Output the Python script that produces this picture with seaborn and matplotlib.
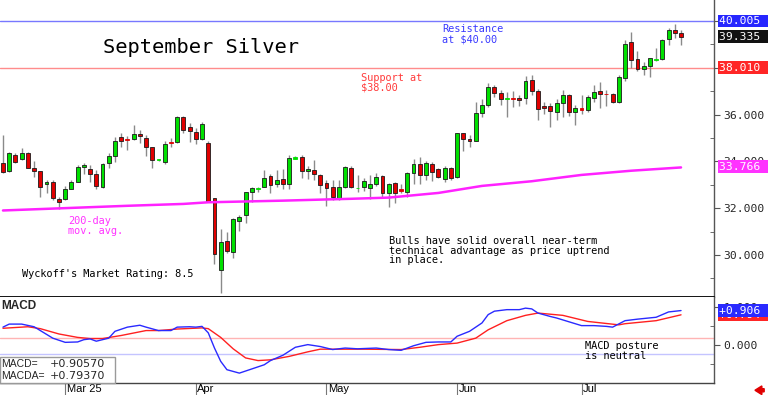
"""
September Silver daily candles with 200-day MA and a MACD panel below.
Values read off the chart by eye; x is the trading-day index.
"""

import numpy as np
import pandas as pd
import matplotlib
matplotlib.use("Agg")
import matplotlib.pyplot as plt
import matplotlib.transforms as mtransforms
from matplotlib.patches import Rectangle, FancyArrow
import seaborn as sns

# ---------------------------------------------------------------------------
# Data
# ---------------------------------------------------------------------------

OPEN = [33.93, 33.59, 34.27, 34.10, 34.36, 33.72, 33.59, 33.03, 33.12, 32.40,
        32.40, 32.82, 33.12, 33.76, 33.68, 33.46, 32.90, 33.93, 34.23, 35.04,
        34.96, 34.96, 35.17, 35.00, 34.62, 34.06, 33.97, 34.83, 34.83, 35.90,
        35.47, 35.26, 34.96, 34.79, 32.44, 29.36, 30.60, 30.13, 31.45, 31.71,
        32.69, 32.80, 32.90, 33.38, 33.03, 33.25, 33.03, 34.12, 34.19, 33.59,
        33.63, 33.42, 33.08, 32.90, 32.40, 32.90, 33.72, 32.84, 32.90, 32.86,
        33.03, 33.38, 32.65, 33.08, 32.82, 32.69, 33.50, 33.89, 33.42, 33.89,
        33.68, 33.25, 33.72, 33.33, 35.21, 34.96, 34.87, 36.07, 36.41, 37.18,
        36.92, 36.65, 36.69, 36.71, 36.71, 37.48, 37.01, 36.37, 36.37, 36.11,
        36.50, 36.84, 36.11, 36.28, 36.20, 36.71, 37.01, 36.90, 36.88, 36.54,
        37.56, 39.10, 38.38, 37.95, 38.08, 38.33, 38.38, 39.23, 39.62, 39.49]
HIGH = [35.13, 34.40, 34.36, 34.57, 34.40, 34.00, 33.60, 33.20, 33.20, 32.48,
        32.95, 33.20, 33.85, 33.93, 33.85, 33.63, 33.93, 34.36, 35.04, 35.21,
        35.08, 35.56, 35.34, 35.13, 34.62, 34.10, 34.87, 35.00, 35.95, 35.95,
        35.64, 35.43, 35.68, 34.85, 32.44, 31.11, 30.98, 31.58, 31.70, 32.69,
        32.90, 32.90, 33.63, 33.46, 33.63, 33.68, 34.27, 34.25, 34.27, 33.80,
        34.06, 33.46, 33.20, 33.20, 33.20, 33.80, 33.80, 33.40, 33.29, 33.42,
        33.50, 33.42, 33.08, 33.12, 33.03, 33.55, 34.10, 34.19, 34.02, 33.97,
        33.72, 33.80, 33.76, 35.21, 35.21, 35.13, 36.54, 36.67, 37.35, 37.27,
        37.05, 36.97, 37.00, 36.84, 37.65, 37.69, 37.10, 36.54, 36.50, 36.67,
        37.05, 36.88, 36.41, 36.84, 36.84, 37.27, 37.39, 37.05, 36.92, 37.69,
        39.19, 39.53, 38.72, 38.25, 38.42, 38.85, 39.23, 39.70, 39.87, 39.62]
LOW = [33.50, 33.55, 33.93, 34.06, 33.70, 33.33, 32.48, 32.65, 32.35, 31.97,
       32.35, 32.80, 33.10, 33.46, 33.12, 32.82, 32.85, 33.72, 33.97, 34.62,
       34.49, 34.92, 34.79, 34.23, 33.72, 34.02, 33.90, 34.62, 34.80, 35.20,
       34.83, 34.74, 34.92, 32.25, 29.62, 28.38, 30.09, 29.87, 31.03, 31.37,
       32.27, 32.70, 32.90, 32.65, 32.90, 32.82, 32.82, 34.10, 33.29, 33.25,
       33.20, 32.65, 32.10, 32.35, 32.35, 32.85, 32.85, 32.70, 32.74, 32.39,
       32.95, 32.48, 32.05, 32.22, 32.65, 32.48, 33.03, 33.03, 33.20, 33.16,
       33.29, 33.12, 33.20, 33.29, 34.44, 34.62, 34.87, 35.90, 36.33, 36.75,
       36.41, 35.90, 36.33, 36.37, 36.45, 36.84, 35.77, 36.03, 35.47, 35.77,
       35.90, 35.94, 35.56, 36.03, 36.11, 36.54, 36.28, 36.37, 36.50, 36.50,
       37.44, 37.99, 37.86, 37.69, 37.61, 38.30, 38.33, 38.97, 39.27, 38.97]
CLOSE = [33.55, 34.36, 33.97, 34.36, 33.72, 33.59, 32.90, 33.12, 32.44, 32.27,
         32.82, 33.12, 33.76, 33.85, 33.46, 32.95, 33.89, 34.23, 34.87, 34.87,
         34.92, 35.17, 35.08, 34.62, 34.06, 34.08, 34.74, 34.79, 35.90, 35.34,
         35.30, 34.96, 35.60, 32.27, 30.04, 30.56, 30.17, 31.54, 31.62, 32.69,
         32.86, 32.84, 33.29, 32.99, 33.20, 33.03, 34.15, 34.17, 33.59, 33.68,
         33.46, 32.99, 32.86, 32.48, 32.90, 33.76, 32.90, 32.86, 33.16, 33.03,
         33.33, 32.65, 33.03, 32.65, 32.74, 33.50, 33.89, 33.42, 33.93, 33.55,
         33.33, 33.72, 33.29, 35.21, 34.96, 34.87, 36.07, 36.41, 37.18, 36.92,
         36.67, 36.69, 36.65, 36.62, 37.44, 37.01, 36.24, 36.28, 36.15, 36.50,
         36.84, 36.11, 36.28, 36.20, 36.75, 36.97, 36.88, 36.86, 36.54, 37.61,
         39.02, 38.33, 37.95, 38.08, 38.42, 38.38, 39.19, 39.62, 39.49, 39.335]

# 200-day moving average, sampled along the line
MA_IDX = [0, 10, 20, 29, 33, 45, 56, 62, 70, 77, 85, 93, 101, 109]
MA_VAL = [31.90, 32.00, 32.10, 32.18, 32.25, 32.32, 32.40, 32.45, 32.65,
          32.95, 33.15, 33.42, 33.60, 33.74]

# MACD (blue) and its average (red)
MACD_IDX = [0, 1, 3, 5, 6, 8, 10, 12, 13, 14, 15, 17, 18, 20, 22, 23, 25, 27,
            28, 30, 31, 32, 33, 34, 35, 36, 38, 40, 42, 43, 45, 47, 49, 51,
            53, 55, 57, 60, 62, 64, 66, 68, 70, 72, 73, 75, 77, 78, 79, 81,
            83, 84, 85, 86, 88, 89, 91, 93, 95, 97, 98, 100, 102, 105, 107,
            109]
MACD_VAL = [0.47, 0.55, 0.55, 0.48, 0.38, 0.18, 0.07, 0.08, 0.14, 0.16, 0.10,
            0.18, 0.36, 0.47, 0.52, 0.47, 0.38, 0.38, 0.47, 0.48, 0.47, 0.49,
            0.32, -0.08, -0.43, -0.65, -0.74, -0.63, -0.52, -0.41, -0.27,
            -0.06, 0.01, -0.04, -0.12, -0.08, -0.10, -0.08, -0.12, -0.14,
            -0.02, 0.07, 0.08, 0.08, 0.23, 0.36, 0.58, 0.80, 0.89, 0.93, 0.93,
            0.97, 0.95, 0.84, 0.75, 0.71, 0.61, 0.51, 0.51, 0.49, 0.47, 0.64,
            0.68, 0.73, 0.87, 0.906]
SIG_IDX = [0, 4, 6, 9, 12, 14, 16, 19, 23, 25, 28, 32, 33, 35, 37, 39, 41, 43,
           46, 49, 51, 55, 58, 64, 67, 70, 73, 76, 78, 81, 84, 86, 90, 94, 99,
           100, 105, 109]
SIG_VAL = [0.44, 0.48, 0.43, 0.29, 0.20, 0.17, 0.17, 0.25, 0.38, 0.38, 0.42,
           0.45, 0.43, 0.20, -0.10, -0.34, -0.41, -0.39, -0.30, -0.18, -0.11,
           -0.11, -0.11, -0.12, -0.06, 0.01, 0.05, 0.18, 0.40, 0.64, 0.78,
           0.84, 0.78, 0.62, 0.53, 0.56, 0.64, 0.794]

MONTH_IDX = [10, 31, 52, 73, 93]
MONTH_LABELS = ["Mar 25", "Apr", "May", "Jun", "Jul"]

PRICE_TICKS = [30, 32, 34, 36, 38, 40]
# 38 and 40 sit under the support / resistance tags
PRICE_TICK_LABELS = ["30.000", "32.000", "34.000", "36.000", "", ""]

RESISTANCE = 40.005
SUPPORT = 38.010
LAST_PRICE = 39.335
MA_LAST = 33.766
MACD_LAST = 0.90570
MACDA_LAST = 0.79370
MACD_UPPER = 0.18
MACD_LOWER = -0.23

MONO = "DejaVu Sans Mono"
SANS = "Liberation Sans"

# ---------------------------------------------------------------------------
# Figure
# ---------------------------------------------------------------------------

sns.set_style("white")
plt.rcParams["font.family"] = [MONO, "DejaVu Sans"]

fig = plt.figure(figsize=(7.68, 3.95), dpi=100)
ax = fig.add_axes([0, 98 / 395, 714 / 768, 297 / 395])
axm = fig.add_axes([0, 12 / 395, 714 / 768, 86 / 395], sharex=ax)

df = pd.DataFrame({"o": OPEN, "h": HIGH, "l": LOW, "c": CLOSE})
df["i"] = np.arange(len(df))
up = df["c"] >= df["o"]
body = (df["c"] - df["o"]).abs()
colors = np.where(up, "#00e000", "#e00000")
edges = np.where(body < 0.08, colors, "#1a1a1a")

# wicks then bodies
ax.vlines(df["i"], df["l"], df["h"], color="#8a8a8a", lw=1, zorder=2)
ax.bar(df["i"], body.clip(lower=0.035), bottom=df[["o", "c"]].min(axis=1),
       width=0.62, color=colors, edgecolor=edges, linewidth=0.6, zorder=3)

ma = pd.DataFrame({"i": MA_IDX, "v": MA_VAL})
sns.lineplot(data=ma, x="i", y="v", ax=ax, color="#ff22ff", lw=1.8, zorder=4)

ax.axhline(RESISTANCE, color="#7878ff", lw=1, zorder=1)
ax.axhline(SUPPORT, color="#ff8c8c", lw=1, zorder=1)

ax.set_xlim(-0.48, 114.3)
ax.set_ylim(28.2, 40.9)
ax.set_xlabel("")
ax.set_ylabel("")

# MACD panel
macd = pd.DataFrame({"i": MACD_IDX, "v": MACD_VAL})
sig = pd.DataFrame({"i": SIG_IDX, "v": SIG_VAL})
axm.axhline(MACD_UPPER, color="#ffb4b4", lw=1, zorder=1)
axm.axhline(MACD_LOWER, color="#c4c4ff", lw=1, zorder=1)
sns.lineplot(data=sig, x="i", y="v", ax=axm, color="#ff2020", lw=1, zorder=3)
sns.lineplot(data=macd, x="i", y="v", ax=axm, color="#2a2aff", lw=1, zorder=4)
axm.set_ylim(-1.0, 1.263)
axm.set_xlabel("")
axm.set_ylabel("")

# ---------------------------------------------------------------------------
# Axes styling
# ---------------------------------------------------------------------------

for a in (ax, axm):
    a.set_facecolor("white")
    a.spines["top"].set_visible(False)
    a.spines["left"].set_visible(False)
    a.spines["right"].set_color("#555555")
    a.spines["right"].set_linewidth(1)
    a.yaxis.tick_right()
    a.tick_params(axis="y", which="major", direction="out", length=4,
                  color="#555555", labelsize=8.2, pad=3)
    a.tick_params(axis="y", which="minor", direction="in", length=3,
                  color="#555555", right=True)

ax.spines["bottom"].set_color("black")
ax.spines["bottom"].set_linewidth(1.3)
axm.spines["bottom"].set_color("#444444")
axm.spines["bottom"].set_linewidth(1)

ax.set_yticks(PRICE_TICKS)
ax.set_yticklabels(PRICE_TICK_LABELS, family=MONO)
ax.set_yticks([29, 31, 33, 35, 37, 39], minor=True)
ax.tick_params(axis="x", bottom=False, labelbottom=False)

axm.set_yticks([0, 1])
axm.set_yticklabels(["0.000", "1.000"], family=MONO)
axm.set_yticks([-0.5, 0.5], minor=True)
axm.set_xticks(MONTH_IDX)
axm.tick_params(axis="x", which="major", direction="out", length=8.6,
                color="#777777", bottom=True, labelbottom=False)

xdate = mtransforms.blended_transform_factory(axm.transData, axm.transAxes)
for idx, lab in zip(MONTH_IDX, MONTH_LABELS):
    axm.text(idx + 0.25, -0.015, lab, transform=xdate, ha="left", va="top",
             fontsize=8, family=SANS, color="black", clip_on=False)


def tag(a, y, text, fc, z=10):
    tr = mtransforms.blended_transform_factory(a.transAxes, a.transData)
    a.text(1.007, y, text, transform=tr, ha="left", va="center",
           color="white", fontsize=8.2, family=MONO, zorder=z, clip_on=False,
           bbox=dict(boxstyle="square,pad=0.12", fc=fc, ec="none"))


tag(ax, RESISTANCE, f"{RESISTANCE:.3f} ", "#2626ff")
tag(ax, LAST_PRICE, f"{LAST_PRICE:.3f} ", "#111111")
tag(ax, SUPPORT, f"{SUPPORT:.3f} ", "#ff2626")
tag(ax, MA_LAST, f"{MA_LAST:.3f} ", "#ff33ff")
tag(axm, MACDA_LAST, f"{MACDA_LAST:+.3f} ", "#ff2626", z=10)
tag(axm, MACD_LAST, f"{MACD_LAST:+.3f} ", "#2a2aff", z=11)

# ---------------------------------------------------------------------------
# Annotations
# ---------------------------------------------------------------------------

ax.text(16.1, 38.89, "September Silver", fontsize=14.7, family=MONO,
        ha="left", va="center", color="black")
ax.text(70.6, 39.87, "Resistance\nat $40.00", fontsize=7.4, family=MONO,
        color="#3a3aff", ha="left", va="top", linespacing=1.0)
ax.text(57.6, 37.78, "Support at\n$38.00", fontsize=7.4, family=MONO,
        color="#ff3a3a", ha="left", va="top", linespacing=1.0)
ax.text(10.45, 31.67, "200-day\nmov. avg.", fontsize=7.4, family=MONO,
        color="#ff33ff", ha="left", va="top", linespacing=1.0)
ax.text(3.05, 29.40, "Wyckoff's Market Rating: 8.5", fontsize=7.4,
        family=MONO, color="black", ha="left", va="top")
ax.text(62.1, 30.81,
        "Bulls have solid overall near-term\n"
        "technical advantage as price uptrend\n"
        "in place.", fontsize=7.4, family=MONO, color="black",
        ha="left", va="top", linespacing=0.95)
axm.text(93.6, 0.105, "MACD posture\nis neutral", fontsize=7.4, family=MONO,
         color="black", ha="left", va="top", linespacing=1.0)

axm.text(0.002, 0.97, "MACD", transform=axm.transAxes, fontsize=8.5,
         family=SANS, fontweight="bold", ha="left", va="top")

axm.add_patch(Rectangle((0, 0), 115 / 714, 26 / 86, transform=axm.transAxes,
                        fc="white", ec="#9a9a9a", lw=1, zorder=5,
                        clip_on=False))
for yy, lab, val in [(0.221, "MACD=", MACD_LAST), (0.081, "MACDA=", MACDA_LAST)]:
    axm.text(0.0015, yy, lab, transform=axm.transAxes, fontsize=7.5,
             family=SANS, ha="left", va="center", zorder=6)
    axm.text(0.07, yy, f"{val:+.5f}", transform=axm.transAxes, fontsize=8,
             family="DejaVu Sans", ha="left", va="center", zorder=6)

fig.patches.append(FancyArrow(0.995, 0.012, -0.012, 0, width=0.008,
                              head_width=0.022, head_length=0.009,
                              length_includes_head=True,
                              transform=fig.transFigure, color="#e00000"))

fig.savefig("out.png", dpi=100)
